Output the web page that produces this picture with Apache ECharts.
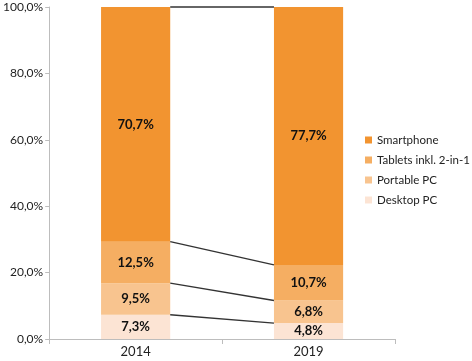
<!DOCTYPE html>
<html>
<head>
<meta charset="utf-8">
<script src="https://cdn.jsdelivr.net/npm/echarts@6/dist/echarts.min.js"></script>
<style>
    html, body { margin: 0; padding: 0; background: #fff; }
    #chart { width: 472px; height: 361px; }
</style>
</head>
<body>
<div id="chart"></div>
<script>
    // Jahre
    var years = ['2014', '2019'];
    // Anteile in %
    var desktop = [7.3, 4.8];
    var portable = [9.5, 6.8];
    var tablets = [12.5, 10.7];
    var smartphone = [70.7, 77.7];
    var yTicks = [0, 20, 40, 60, 80, 100];

    var names = ['Desktop PC', 'Portable PC', 'Tablets inkl. 2-in-1', 'Smartphone'];
    var colors = ['#fce4d4', '#f8c48f', '#f5ae62', '#f29430'];
    var values = [desktop, portable, tablets, smartphone];

    var font = 'Lato';

    var fmt = function (v) {
        return v.toFixed(1).replace('.', ',') + '%';
    };

    // kumulierte Werte fuer die Verbindungslinien
    var cumulative = [];
    var sum = [0, 0];
    values.forEach(function (arr) {
        sum = [sum[0] + arr[0], sum[1] + arr[1]];
        cumulative.push([sum[0], sum[1]]);
    });

    var barRatio = 0.4;

    var series = values.map(function (arr, i) {
        return {
            name: names[i],
            type: 'bar',
            stack: 'total',
            barWidth: (barRatio * 100) + '%',
            itemStyle: { color: colors[i] },
            label: {
                show: true,
                position: 'inside',
                formatter: function (p) { return fmt(p.value); },
                fontFamily: font,
                fontSize: 13,
                fontWeight: 'bold',
                color: '#111'
            },
            data: arr
        };
    });

    series.push({
        type: 'custom',
        silent: true,
        z: 5,
        renderItem: function (params, api) {
            var p0 = api.coord([0, api.value(0)]);
            var p1 = api.coord([1, api.value(1)]);
            var half = api.size([1, 0])[0] * barRatio / 2;
            return {
                type: 'line',
                shape: { x1: p0[0] + half, y1: p0[1], x2: p1[0] - half, y2: p1[1] },
                style: { stroke: '#333', lineWidth: 1.3 }
            };
        },
        encode: { x: -1, y: -1 },
        data: cumulative
    });

    var myChart = echarts.init(document.getElementById('chart'));
    myChart.setOption({
        animation: false,
        grid: { left: 43, right: 77, top: 7, bottom: 22 },
        legend: {
            orient: 'vertical',
            left: 360,
            top: 129,
            itemWidth: 7,
            itemHeight: 7,
            itemGap: 8,
            icon: 'rect',
            data: names.slice().reverse(),
            textStyle: { fontFamily: font, fontSize: 11.5, color: '#222' }
        },
        xAxis: {
            type: 'category',
            data: years,
            axisLine: { lineStyle: { color: '#bdbdbd' } },
            axisTick: { show: true, length: 5, lineStyle: { color: '#bdbdbd' } },
            axisLabel: { fontFamily: font, fontSize: 13, color: '#222', margin: 6 }
        },
        yAxis: {
            type: 'value',
            min: yTicks[0],
            max: yTicks[yTicks.length - 1],
            interval: 20,
            axisLine: { show: true, lineStyle: { color: '#bdbdbd' } },
            axisTick: { show: true, length: 4, lineStyle: { color: '#bdbdbd' } },
            splitLine: { show: false },
            axisLabel: {
                formatter: fmt,
                fontFamily: font,
                fontSize: 12,
                color: '#222',
                margin: 6
            }
        },
        series: series
    });
</script>
</body>
</html>
